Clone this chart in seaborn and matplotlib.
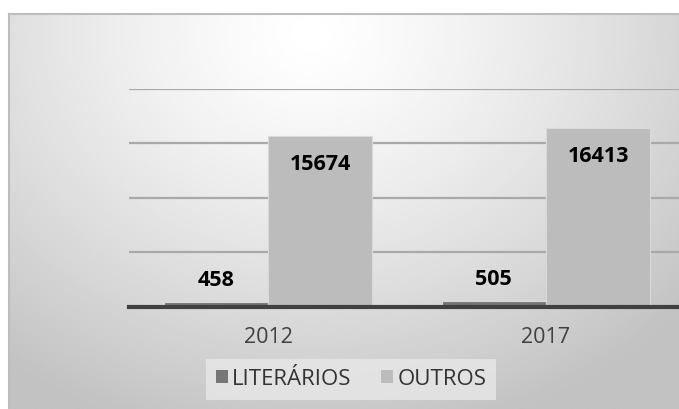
import numpy as np
import pandas as pd
import matplotlib
matplotlib.use("Agg")
import matplotlib.pyplot as plt
import seaborn as sns
from matplotlib.patches import Patch

years = ["2012", "2017"]
series = ["LITERÁRIOS", "OUTROS"]
literarios = [458, 505]
outros = [15674, 16413]
y_ticks = [0, 5000, 10000, 15000, 20000]

df = pd.DataFrame({
    "ano": years * 2,
    "tipo": [series[0]] * 2 + [series[1]] * 2,
    "valor": literarios + outros,
})

sns.set_theme(style="white")
plt.rcParams["font.family"] = ["Open Sans", "DejaVu Sans"]

W, H = 679, 410
fig = plt.figure(figsize=(W / 100, H / 100), dpi=100)
fig.patch.set_facecolor("white")

# chart-area background with radial gradient
bg = fig.add_axes([9 / W, 0, 1 - 9 / W, (H - 15) / H], zorder=0)
gx = np.linspace(0, 1, 400)
gy = np.linspace(0, 1, 300)
X, Y = np.meshgrid(gx, gy)
cx, cy = 0.45, 0.05
R = np.sqrt(((X - cx) / 0.75) ** 2 + ((Y - cy) / 1.05) ** 2)
R = np.clip(R, 0, 1)
shade = 1.0 - 0.24 * R ** 1.3
bg.imshow(shade, cmap="gray", vmin=0, vmax=1, aspect="auto", extent=[0, 1, 1, 0])
bg.set_xlim(0, 1)
bg.set_ylim(1, 0)
bg.set_xticks([])
bg.set_yticks([])
for s in ["left", "top"]:
    bg.spines[s].set_color("#bdbdbd")
    bg.spines[s].set_linewidth(1.5)
for s in ["right", "bottom"]:
    bg.spines[s].set_visible(False)

# plot axes
left_px, base_px, top_px = 129, 307.5, 89.5
band = 278.0
ax = fig.add_axes([left_px / W, (H - base_px) / H, (W - left_px) / W, (base_px - top_px) / H], zorder=1)
ax.patch.set_alpha(0)

pal = {series[0]: "#767676", series[1]: "#bcbcbc"}
sns.barplot(data=df, x="ano", y="valor", hue="tipo", palette=pal, width=0.75,
            ax=ax, legend=False, edgecolor="#d9d9d9", linewidth=0.8, saturation=1)

ax.set_xlim(-0.5, -0.5 + (W - left_px) / band)
ax.set_ylim(0, 20000)
ax.set_yticks(y_ticks)
ax.set_yticklabels([])
ax.tick_params(axis="y", length=0)
ax.yaxis.grid(True, color="#a9a9a9", linewidth=1.6)
ax.set_axisbelow(True)
for s in ["left", "right", "top"]:
    ax.spines[s].set_visible(False)
ax.spines["bottom"].set_color("#404040")
ax.spines["bottom"].set_linewidth(3)
ax.set_xlabel("")
ax.set_ylabel("")
ax.tick_params(axis="x", length=0, pad=14, labelsize=15.5, labelcolor="#404040")

# data labels
for cont, vals in zip(ax.containers, [literarios, outros]):
    for bar, v in zip(cont, vals):
        xc = bar.get_x() + bar.get_width() / 2
        if v > 3000:
            ax.annotate(f"{v}", (xc, v), xytext=(0, -28), textcoords="offset pixels",
                        ha="center", va="center", fontsize=15.5, fontweight="bold", color="black")
        else:
            ax.annotate(f"{v}", (xc, v), xytext=(0, 22), textcoords="offset pixels",
                        ha="center", va="center", fontsize=15.5, fontweight="bold", color="black")

handles = [Patch(facecolor=pal[s], edgecolor="none") for s in series]
leg = fig.legend(handles, series, loc="center", bbox_to_anchor=(351 / W, 1 - 380 / H),
                 ncol=2, frameon=True, fontsize=16, handlelength=0.55, handleheight=0.55,
                 handletextpad=0.2, columnspacing=1.3, borderpad=0.45)
leg.get_frame().set_facecolor("#e8e8e8")
leg.get_frame().set_edgecolor("none")
leg.get_frame().set_alpha(0.8)
leg.get_frame().set_boxstyle("square", pad=0.0)
for t in leg.get_texts():
    t.set_color("#333333")
leg.set_zorder(3)

fig.savefig("out.png", dpi=100)
